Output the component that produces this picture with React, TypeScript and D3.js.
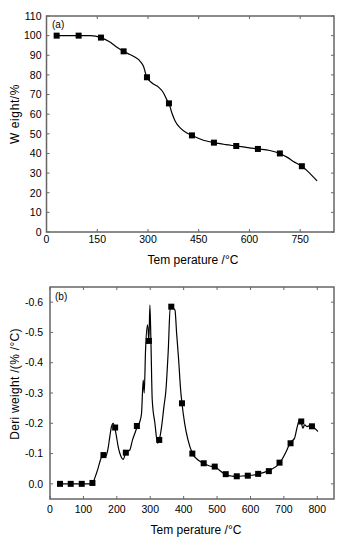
import React from "react";
import * as d3 from "d3";

// ---- Panel (a): weight loss (TG) ----
const tgMarkerT = [30, 95, 161, 228, 297, 362, 430, 495, 561, 625, 690, 755];
const tgMarkerW = [100, 100, 99, 92, 78.8, 65.5, 49.2, 45.5, 43.8, 42.3, 40, 33.5];
const tgCurveT = [30, 95, 130, 161, 185, 205, 228, 245, 258, 277, 287, 294, 297, 312, 331, 346, 356, 362, 371, 381, 396, 415, 430, 460, 495, 530, 561, 595, 625, 660, 690, 712, 730, 755, 778, 800];
const tgCurveW = [100, 100, 100, 99, 97, 94.5, 92, 90.5, 89.4, 86.9, 84.3, 80.1, 78.8, 75.9, 73.8, 70.8, 67.3, 65.5, 60.5, 56.3, 52.9, 50.4, 49.2, 47, 45.5, 44.5, 43.8, 43, 42.3, 41.5, 40, 38, 35.9, 33.5, 30, 26];
const tgXTicks = [0, 150, 300, 450, 600, 750];
const tgYTicks = [0, 10, 20, 30, 40, 50, 60, 70, 80, 90, 100, 110];

// ---- Panel (b): derivative (DTG) ----
const dtgMarkerT = [30, 62, 95, 127, 160, 195, 227, 260, 296, 327, 363, 395, 426, 460, 493, 526, 559, 592, 623, 655, 687, 720, 752, 784];
const dtgMarkerV = [0, 0, 0, -0.003, -0.095, -0.186, -0.103, -0.191, -0.472, -0.145, -0.585, -0.266, -0.1, -0.068, -0.057, -0.032, -0.025, -0.027, -0.033, -0.042, -0.07, -0.134, -0.206, -0.19];
const dtgCurveT = [30, 62, 95, 127, 134, 144, 151, 159, 166, 174, 179, 184, 189, 194, 199, 204, 209, 219, 227, 239, 247, 254, 262, 269, 274, 279, 282, 286, 292, 296, 299, 302, 306, 314, 322, 327, 334, 341, 347, 354, 360, 368, 374, 379, 385, 391, 395, 403, 413, 426, 443, 460, 478, 493, 508, 526, 543, 558, 575, 591, 622, 655, 687, 707, 719, 732, 739, 745, 750, 757, 762, 769, 782, 792, 802];
const dtgCurveV = [0, 0, 0, 0, -0.019, -0.052, -0.079, -0.096, -0.09, -0.118, -0.156, -0.189, -0.2, -0.186, -0.156, -0.123, -0.101, -0.081, -0.103, -0.112, -0.145, -0.167, -0.191, -0.206, -0.233, -0.343, -0.3, -0.442, -0.525, -0.475, -0.59, -0.475, -0.277, -0.2, -0.134, -0.145, -0.189, -0.255, -0.31, -0.442, -0.585, -0.58, -0.574, -0.497, -0.41, -0.31, -0.266, -0.2, -0.145, -0.101, -0.079, -0.068, -0.059, -0.057, -0.044, -0.03, -0.026, -0.024, -0.026, -0.027, -0.032, -0.044, -0.068, -0.107, -0.136, -0.151, -0.184, -0.206, -0.209, -0.184, -0.195, -0.189, -0.195, -0.184, -0.173];
const dtgXTicks = [0, 100, 200, 300, 400, 500, 600, 700, 800];
const dtgYTicks = [0, -0.1, -0.2, -0.3, -0.4, -0.5, -0.6];

const FONT = "'Liberation Sans', Arial, sans-serif";
const FRAME = "#666";
const TICK = 3;

type PanelProps = {
  left: number; right: number; top: number; bottom: number;
  xDomain: [number, number]; yDomain: [number, number];
  xTicks: number[]; yTicks: number[];
  fmtY: (v: number) => string;
  curveT: number[]; curveV: number[];
  markT: number[]; markV: number[];
  label: string; labelX: number; labelY: number;
  yTitle: string; yTitleX: number; yTitleY: number; yTitleSpacing: number;
  xTitleX: number; xTitleY: number; xLabelY: number; yLabelGap: number;
  curve: any;
};

function Panel(p: PanelProps) {
  const x = d3.scaleLinear().domain(p.xDomain).range([p.left, p.right]);
  const y = d3.scaleLinear().domain(p.yDomain).range([p.bottom, p.top]);
  const pts = p.curveT.map((t, i) => [t, p.curveV[i]] as [number, number]);
  const line = d3.line<[number, number]>().x(d => x(d[0])).y(d => y(d[1])).curve(p.curve);
  const ms = 6;
  return (
    <g>
      <path d={line(pts) || ""} fill="none" stroke="#000" strokeWidth={1.2} />
      {p.markT.map((t, i) => (
        <rect key={i} x={x(t) - ms / 2} y={y(p.markV[i]) - ms / 2} width={ms} height={ms} fill="#000" />
      ))}
      <rect x={p.left} y={p.top} width={p.right - p.left} height={p.bottom - p.top} fill="none" stroke={FRAME} strokeWidth={1.5} />
      {p.xTicks.map((t, i) => (
        <g key={"xt" + i}>
          <line x1={x(t)} x2={x(t)} y1={p.bottom} y2={p.bottom - TICK} stroke={FRAME} />
          <line x1={x(t)} x2={x(t)} y1={p.top} y2={p.top + TICK} stroke={FRAME} />
          <text x={x(t)} y={p.xLabelY} textAnchor="middle" fontSize={10.5} fontFamily={FONT} fill="#000">{t}</text>
        </g>
      ))}
      {p.yTicks.map((v, i) => (
        <g key={"yt" + i}>
          <line x1={p.left} x2={p.left + TICK} y1={y(v)} y2={y(v)} stroke={FRAME} />
          <line x1={p.right} x2={p.right - TICK} y1={y(v)} y2={y(v)} stroke={FRAME} />
          <text x={p.left - p.yLabelGap} y={y(v)} dy="0.36em" textAnchor="end" fontSize={10.5} fontFamily={FONT} fill="#000">{p.fmtY(v)}</text>
        </g>
      ))}
      <text x={p.labelX} y={p.labelY} fontSize={10} fontFamily={FONT} fill="#000">{p.label}</text>
      <text x={p.xTitleX} y={p.xTitleY} textAnchor="middle" fontSize={12} fontFamily={FONT} fill="#000">Tem perature /°C</text>
      <text transform={`translate(${p.yTitleX},${p.yTitleY}) rotate(-90)`} textAnchor="middle" fontSize={12} letterSpacing={p.yTitleSpacing} fontFamily={FONT} fill="#000">{p.yTitle}</text>
    </g>
  );
}

export default function App() {
  return (
    <svg width={346} height={546} style={{ position: "absolute", left: 0, top: 0, background: "#fff" }}>
      <Panel
        left={46.5} right={334} top={16} bottom={232}
        xDomain={[0, 850]} yDomain={[0, 110]}
        xTicks={tgXTicks} yTicks={tgYTicks}
        fmtY={v => String(v)}
        curveT={tgCurveT} curveV={tgCurveW}
        markT={tgMarkerT} markV={tgMarkerW}
        label="(a)" labelX={52} labelY={28}
        yTitle="W eight/%" yTitleX={19} yTitleY={114} yTitleSpacing={0.6}
        xTitleX={193} xTitleY={264} xLabelY={243} yLabelGap={5}
        curve={d3.curveMonotoneX}
      />
      <Panel
        left={50} right={334} top={287} bottom={499}
        xDomain={[0, 850]} yDomain={[0.05, -0.65]}
        xTicks={dtgXTicks} yTicks={dtgYTicks}
        fmtY={v => (v === 0 ? "0.0" : v.toFixed(1))}
        curveT={dtgCurveT} curveV={dtgCurveV}
        markT={dtgMarkerT} markV={dtgMarkerV}
        label="(b)" labelX={55} labelY={300}
        yTitle="Deri weight /(% /°C)" yTitleX={19} yTitleY={384} yTitleSpacing={0.3}
        xTitleX={196} xTitleY={534} xLabelY={513} yLabelGap={7}
        curve={d3.curveMonotoneX}
      />
    </svg>
  );
}
